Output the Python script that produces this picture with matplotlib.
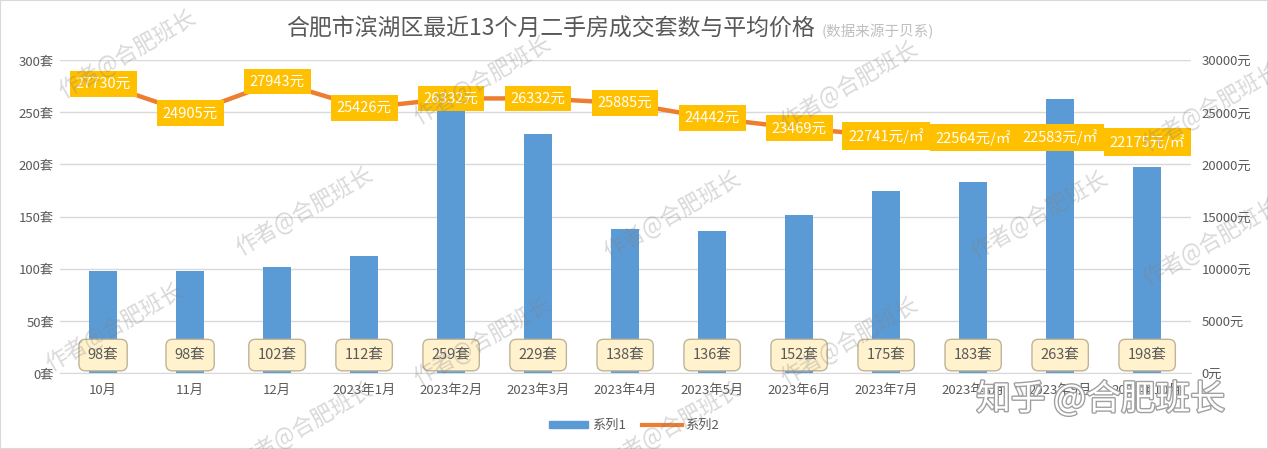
import matplotlib.pyplot as plt
import matplotlib.patheffects as pe
from matplotlib.lines import Line2D
from matplotlib.patches import Patch, Rectangle

plt.rcParams['font.family'] = ['Noto Sans CJK SC', 'DejaVu Sans']

# data
months = ['10月', '11月', '12月', '2023年1月', '2023年2月', '2023年3月', '2023年4月',
          '2023年5月', '2023年6月', '2023年7月', '2023年8月', '2023年9月', '2023年10月']
deals = [98, 98, 102, 112, 259, 229, 138, 136, 152, 175, 183, 263, 198]
prices = [27730, 24905, 27943, 25426, 26332, 26332, 25885, 24442, 23469,
          22741, 22564, 22583, 22175]
price_units = ['元'] * 9 + ['元/㎡'] * 4

fig = plt.figure(figsize=(12.68, 4.49), dpi=100)
ax = fig.add_axes([0.047, 0.169, 0.892, 0.697])
ax2 = ax.twinx()

x = range(len(months))
grey = '#595959'

ax.bar(x, deals, width=0.32, color='#5B9BD5', zorder=2)
ax.set_ylim(0, 300)
ax.set_xlim(-0.5, len(months) - 0.5)
ax.set_yticks(range(0, 301, 50))
ax.set_yticklabels([f'{v}套' for v in range(0, 301, 50)])
ax.set_xticks(list(x))
ax.set_xticklabels(months)
ax.yaxis.grid(True, color='#D9D9D9', lw=1, zorder=0)
ax.set_axisbelow(True)
for s in ax.spines.values():
    s.set_visible(False)
for s in ax2.spines.values():
    s.set_visible(False)
ax.spines['bottom'].set_visible(True)
ax.spines['bottom'].set_color('#D9D9D9')
ax.tick_params(axis='both', length=0, colors=grey, labelsize=9.5)
ax.tick_params(axis='x', pad=8)
ax.tick_params(axis='y', pad=4)

# bar labels near the base
for i, v in enumerate(deals):
    ax.annotate(f'{v}套', xy=(i, 0), xytext=(0, 13), textcoords='offset points',
                ha='center', va='center', fontsize=10.5, color=grey, zorder=5,
                bbox=dict(boxstyle='round,pad=0.6,rounding_size=0.45',
                          fc='#FFF2CC', ec='#BFB49A', lw=1))

ax2.plot(x, prices, color='#ED7D31', lw=3.2, zorder=3)
ax2.set_ylim(0, 30000)
ax2.set_yticks(range(0, 30001, 5000))
ax2.set_yticklabels([f'{v}元' for v in range(0, 30001, 5000)])
ax2.tick_params(axis='y', length=0, colors=grey, labelsize=9.5, pad=8)

for i, (p, u) in enumerate(zip(prices, price_units)):
    ax2.text(i, p, f'{p}{u}', ha='center', va='center', fontsize=10.5,
             color='white', zorder=6,
             bbox=dict(boxstyle='square,pad=0.4', fc='#FFC000', ec='none'))

# title
fig.text(0.643, 0.935, '合肥市滨湖区最近13个月二手房成交套数与平均价格',
         ha='right', va='center', fontsize=16.5, color=grey)
fig.text(0.648, 0.930, '(数据来源于贝系)', ha='left', va='center',
         fontsize=10.5, color='#BFBFBF')

# legend
handles = [Patch(color='#5B9BD5'), Line2D([0], [0], color='#ED7D31', lw=3)]
fig.legend(handles, ['系列1', '系列2'], loc='center', bbox_to_anchor=(0.5, 0.052),
           ncol=2, frameon=False, fontsize=9.5, labelcolor=grey,
           handlelength=3, handleheight=0.5, columnspacing=1.2, handletextpad=0.3)

# watermarks
marks = [(0.10, 0.88), (0.38, 0.82), (0.67, 0.81), (0.955, 0.76),
         (0.24, 0.53), (0.53, 0.52), (0.82, 0.52), (0.955, 0.46),
         (0.09, 0.27), (0.38, 0.24), (0.67, 0.24),
         (0.24, 0.05), (0.53, 0.05)]
for mx, my in marks:
    fig.text(mx, my, '作者@合肥班长', rotation=30, ha='center', va='center',
             fontsize=16, color='#808080', alpha=0.3, zorder=10)
fig.text(0.868, 0.11, '知乎 @合肥班长', ha='center', va='center', fontsize=25,
         color='white', zorder=11,
         path_effects=[pe.withStroke(linewidth=2, foreground='#A0A0A0')])

fig.patches.append(Rectangle((0, 0), 1, 1, transform=fig.transFigure,
                             fill=False, ec='#D9D9D9', lw=1.5))

fig.savefig('out.png', dpi=100)
